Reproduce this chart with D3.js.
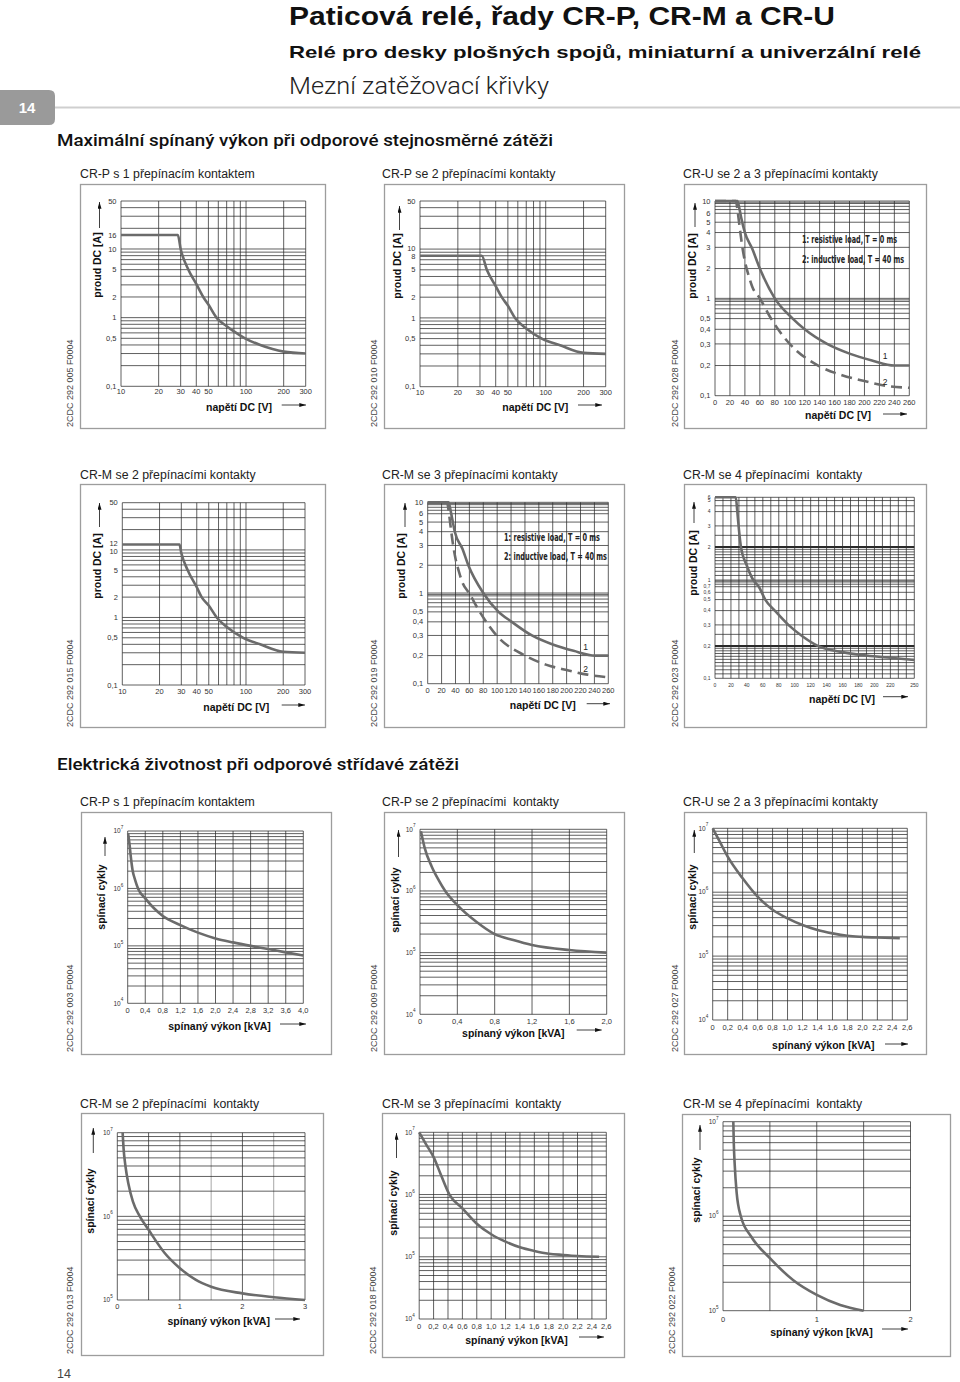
<!DOCTYPE html>
<html><head><meta charset="utf-8">
<script src="https://cdn.jsdelivr.net/npm/d3@7"></script>
<style>
body{margin:0;background:#fff}
svg{display:block}
text{font-family:"Liberation Sans",Arial,Helvetica,sans-serif}
</style>
</head><body>
<svg id="page" width="960" height="1382"></svg>
<script>
// ===================== DATA =====================
// DC load limit curves (voltage V -> current A)
const c1Voltage = [10, 28.5, 30, 34.6, 40, 45.5, 50, 58, 70, 80, 98, 130, 200, 300];
const c1Current = [16, 16, 10, 5, 3.1, 2, 1.55, 1, 0.75, 0.63, 0.5, 0.4, 0.32, 0.3];

const c2Voltage = [10, 31, 34, 40, 44.7, 50, 57, 70, 93, 130, 200, 300];
const c2Current = [8, 8, 5, 2.9, 2, 1.5, 1, 0.7, 0.5, 0.4, 0.31, 0.3];

const c3Voltage1 = [0, 30, 32, 35, 40, 50, 60, 80, 104, 120, 150, 180, 210, 240, 260];
const c3Current1 = [10, 10, 8, 5.5, 4, 2.9, 2, 1, 0.5, 0.4, 0.3, 0.25, 0.22, 0.2, 0.2];
const c3Voltage2 = [0, 28, 30, 33, 36, 40, 45, 50, 60, 75, 100, 138, 170, 200, 230, 260];
const c3Current2 = [10, 10, 7, 4.5, 3.2, 2.3, 1.7, 1.3, 1, 0.5, 0.3, 0.2, 0.16, 0.14, 0.125, 0.12];

const c4Voltage = [10, 29, 30, 33.8, 40, 43.8, 50, 58, 70, 95, 130, 200, 300];
const c4Current = [12, 12, 9, 5, 2.8, 2, 1.5, 1, 0.72, 0.5, 0.4, 0.31, 0.3];

const c5Voltage1 = [0, 30, 32, 35, 39, 50, 58.5, 80, 102, 121, 150, 180, 210, 241, 260];
const c5Current1 = [10, 10, 8, 5.5, 4, 2.8, 2, 1, 0.5, 0.4, 0.3, 0.25, 0.22, 0.2, 0.2];
const c5Voltage2 = [0, 28, 30, 33, 36, 40, 45, 50, 59.5, 75, 99, 140, 170, 200, 230, 260];
const c5Current2 = [10, 10, 7, 4.5, 3.2, 2.3, 1.7, 1.3, 1, 0.5, 0.3, 0.2, 0.16, 0.14, 0.125, 0.117];

const c6Voltage = [0, 26, 28, 30, 32.5, 40, 48, 55, 63, 75, 92, 110, 129, 160, 190, 220, 250];
const c6Current = [6, 6, 4, 2.8, 2, 1.35, 1, 0.7, 0.5, 0.4, 0.3, 0.24, 0.2, 0.175, 0.163, 0.155, 0.148];

// Electrical life curves (switched power kVA -> switching cycles)
const c7Power  = [0.01, 0.04, 0.07, 0.11, 0.17, 0.24, 0.4, 0.8, 1.2, 1.6, 2.0, 2.4, 2.8, 3.2, 3.6, 4.0];
const c7Cycles = [9e6, 6e6, 3.6e6, 2.1e6, 1.4e6, 9.8e5, 6.7e5, 3.3e5, 2.3e5, 1.7e5, 1.35e5, 1.15e5, 1.0e5, 8.8e4, 7.7e4, 6.8e4];

const c8Power  = [0.01, 0.05, 0.125, 0.2, 0.27, 0.4, 0.6, 0.8, 1.0, 1.2, 1.6, 2.0];
const c8Cycles = [9.3e6, 5e6, 2.5e6, 1.5e6, 1e6, 5.9e5, 3.2e5, 2e5, 1.6e5, 1.33e5, 1.1e5, 1e5];

const c9Power  = [0, 0.1, 0.2, 0.4, 0.6, 0.8, 1.0, 1.2, 1.4, 1.6, 1.8, 2.0, 2.2, 2.5];
const c9Cycles = [1e7, 6e6, 3.6e6, 1.65e6, 8.5e5, 5.3e5, 3.9e5, 3.07e5, 2.56e5, 2.27e5, 2.08e5, 2.0e5, 1.95e5, 1.9e5];

const c10Power  = [0.085, 0.1, 0.13, 0.18, 0.25, 0.36, 0.5, 0.75, 1.0, 1.25, 1.5, 2.0, 2.5, 3.0];
const c10Cycles = [1e7, 6.5e6, 4e6, 2.4e6, 1.5e6, 1e6, 6.9e5, 3.7e5, 2.4e5, 1.75e5, 1.44e5, 1.2e5, 1.08e5, 1.0e5];

const c11Power  = [0, 0.1, 0.2, 0.3, 0.42, 0.6, 0.8, 1.0, 1.2, 1.4, 1.6, 1.8, 2.0, 2.2, 2.5];
const c11Cycles = [1e7, 6.3e6, 4e6, 2.1e6, 1e6, 6e5, 3.4e5, 2.3e5, 1.75e5, 1.42e5, 1.24e5, 1.12e5, 1.07e5, 1.03e5, 1.0e5];

const c12Power  = [0.11, 0.115, 0.125, 0.145, 0.19, 0.3, 0.5, 0.75, 1.0, 1.25, 1.5];
const c12Cycles = [1e7, 6e6, 3.5e6, 1.8e6, 1e6, 6.1e5, 3.6e5, 2.1e5, 1.47e5, 1.15e5, 1.0e5];

// tick labels
const dcLogXTicks = [10, 20, 30, 40, 50, 100, 200, 300];
const yTicks16 = [50, 16, 10, 5, 2, 1, 0.5, 0.1];
const yTicks8  = [50, 10, 8, 5, 2, 1, 0.5, 0.1];
const yTicks12 = [50, 12, 10, 5, 2, 1, 0.5, 0.1];
const x260Ticks = [0, 20, 40, 60, 80, 100, 120, 140, 160, 180, 200, 220, 240, 260];
const x250Ticks = [0, 20, 40, 60, 80, 100, 120, 140, 160, 180, 200, 220, 250];
const paper10Ticks = [10, 6, 5, 4, 3, 2, 1, 0.5, 0.4, 0.3, 0.2, 0.1];
const paper6Ticks  = [6, 5, 4, 3, 2, 1, 0.7, 0.6, 0.5, 0.4, 0.3, 0.2, 0.1];
const paper10Grid = [10, 9.5, 9, 8, 7, 6, 5, 4, 3, 2, 1, 0.95, 0.9, 0.8, 0.7, 0.6, 0.5, 0.4, 0.3, 0.2, 0.1];
const paper6Grid  = [6, 5, 4.5, 4, 3, 2.5, 2, 1.9, 1.8, 1.7, 1.6, 1.5, 1.4, 1.3, 1.2, 1.1, 1, 0.95, 0.9, 0.8, 0.7, 0.6, 0.5, 0.4, 0.3, 0.25, 0.2, 0.19, 0.18, 0.17, 0.16, 0.15, 0.14, 0.13, 0.12, 0.11, 0.1];
const paper6Bold = [2, 0.2];
const x40Ticks = [0, 0.4, 0.8, 1.2, 1.6, 2.0, 2.4, 2.8, 3.2, 3.6, 4.0];
const x20Ticks = [0, 0.4, 0.8, 1.2, 1.6, 2.0];
const x26Ticks = [0, 0.2, 0.4, 0.6, 0.8, 1.0, 1.2, 1.4, 1.6, 1.8, 2.0, 2.2, 2.4, 2.6];
const x3Ticks = [0, 1, 2, 3];
const x2Ticks = [0, 1, 2];
const lifeExp3 = [7, 6, 5, 4];
const lifeExp2 = [7, 6, 5];

// layout of the non-logarithmic "paper" used for some DC charts (tick position as fraction of height)
const paper10Frac = [0, .063, .109, .162, .238, .347, .5, .604, .659, .734, .845, 1];
const paper6Frac  = [0, .018, .079, .158, .274, .457, .494, .525, .565, .626, .705, .821, 1];

// ===================== DRAWING =====================
const svg = d3.select('#page');
const defs = svg.append('defs');
defs.append('marker').attr('id', 'ah').attr('viewBox', '0 0 10 6').attr('refX', 10).attr('refY', 3)
  .attr('markerWidth', 7).attr('markerHeight', 4).attr('markerUnits', 'userSpaceOnUse').attr('orient', 'auto')
  .append('path').attr('d', 'M0,0L10,3L0,6Z').attr('fill', '#111');

const comma = v => String(v).replace('.', ',');
const dec1 = v => v === 0 ? '0' : v.toFixed(1).replace('.', ',');

// ----- header -----
svg.append('text').attr('x', 289).attr('y', 25).attr('font-size', 26).attr('font-weight', 'bold')
  .attr('textLength', 546).attr('lengthAdjust', 'spacingAndGlyphs').attr('fill', '#111')
  .text('Paticová relé, řady CR-P, CR-M a CR-U');
svg.append('text').attr('x', 289).attr('y', 57.5).attr('font-size', 17).attr('font-weight', 'bold')
  .attr('textLength', 632).attr('lengthAdjust', 'spacingAndGlyphs').attr('fill', '#111')
  .text('Relé pro desky plošných spojů, miniaturní a univerzální relé');
svg.append('text').attr('x', 289).attr('y', 94).attr('font-size', 23.5)
  .style('font-family', 'Roboto, "Liberation Sans", Arial, sans-serif').attr('font-weight', 300)
  .attr('textLength', 260).attr('lengthAdjust', 'spacingAndGlyphs').attr('fill', '#222')
  .text('Mezní zatěžovací křivky');
svg.append('path').attr('d', 'M0,90 H49 Q55,90 55,96 V119 Q55,125 49,125 H0 Z').attr('fill', '#9a9a9a');
svg.append('text').attr('x', 27).attr('y', 113).attr('text-anchor', 'middle').attr('font-size', 15)
  .attr('font-weight', 'bold').attr('fill', '#fff').text('14');
svg.append('line').attr('x1', 55).attr('x2', 960).attr('y1', 107.5).attr('y2', 107.5)
  .attr('stroke', '#cfcfcf').attr('stroke-width', 2.2);

function sectionTitle(y, txt, len) {
  svg.append('text').attr('x', 57).attr('y', y).attr('font-size', 16.5)
    .style('font-family', 'Roboto, "Liberation Sans", Arial, sans-serif').attr('font-weight', 500)
    .attr('textLength', len).attr('lengthAdjust', 'spacingAndGlyphs').attr('fill', '#111').text(txt);
}
sectionTitle(145.5, 'Maximální spínaný výkon při odporové stejnosměrné zátěži', 496);
sectionTitle(770, 'Elektrická životnost při odporové střídavé zátěži', 402);

svg.append('text').attr('x', 57).attr('y', 1378).attr('font-size', 12.5).attr('fill', '#444').text('14');

// ----- generic chart -----
function makeScale(type, domain, range, paper) {
  if (type === 'log') return d3.scaleLog().domain(domain).range(range);
  if (type === 'lin') return d3.scaleLinear().domain(domain).range(range);
  const s = d3.scaleLinear().domain(paper.values.map(Math.log10))
    .range(paper.fracs.map(f => range[1] + f * (range[0] - range[1])));
  return v => s(Math.log10(v));
}

function drawChart(c) {
  const g = svg.append('g');
  g.append('rect').attr('x', c.box[0]).attr('y', c.box[1]).attr('width', c.box[2]).attr('height', c.box[3])
    .attr('fill', 'none').attr('stroke', '#9d9d9d').attr('stroke-width', 1.3);
  g.append('text').attr('x', c.titlePos[0]).attr('y', c.titlePos[1]).attr('font-size', 12.3)
    .attr('fill', '#222').style('white-space', 'pre').text(c.title);
  const [L, T, R, B] = c.plot;
  const x = makeScale(c.xType, c.xDomain, [L, R]);
  const y = makeScale(c.yType, c.yDomain, [B, T], c.paper);

  // grid
  const grid = g.append('g').attr('stroke', '#2b2b2b').attr('stroke-width', 0.75);
  c.xGrid.forEach(v => grid.append('line').attr('x1', x(v)).attr('x2', x(v)).attr('y1', T).attr('y2', B)
    .attr('stroke', (c.xGridLight && c.xGridLight.includes(v)) ? '#8a8a8a' : null));
  c.yGrid.forEach(v => grid.append('line').attr('y1', y(v)).attr('y2', y(v)).attr('x1', L).attr('x2', R)
    .attr('stroke-width', (c.yGridBold && c.yGridBold.includes(v)) ? 2 : null));

  // tick labels
  const fs = c.tickSize || 7.5;
  const nudge = c.yNudge || {};
  if (c.yPow) {
    c.yPow.forEach(e => {
      const t = g.append('text').attr('x', L - 4.5).attr('y', y(Math.pow(10, e))).attr('dy', '0.35em')
        .attr('text-anchor', 'end').attr('font-size', 6.5).attr('fill', '#333').text('10');
      t.append('tspan').attr('font-size', 4.6).attr('dy', '-0.9em').text(e);
    });
  } else {
    c.yTicks.forEach(v => {
      g.append('text').attr('x', L - 4.5).attr('y', y(v) + (nudge[v] || 0)).attr('dy', '0.35em')
        .attr('text-anchor', 'end').attr('font-size', fs).attr('fill', '#333').text(comma(v));
    });
  }
  c.xTicks.forEach(v => {
    g.append('text').attr('x', x(v)).attr('y', B + (c.xLabDy || 6.5)).attr('dy', '0.35em')
      .attr('text-anchor', 'middle').attr('font-size', fs).attr('fill', '#333').text(c.xFmt(v));
  });

  // curves
  const line = d3.line().x(d => x(d[0])).y(d => y(d[1])).curve(d3.curveMonotoneX);
  c.series.forEach(s => {
    g.append('path').datum(d3.zip(s.x, s.y)).attr('d', line).attr('fill', 'none')
      .attr('stroke', '#6b6b6b').attr('stroke-width', 2.6)
      .attr('stroke-dasharray', s.dash ? '11,6' : null);
  });

  // axis titles
  const yt = c.yTitle;
  g.append('text').attr('transform', `translate(${yt.x},${yt.y}) rotate(-90)`).attr('text-anchor', 'middle')
    .attr('dy', '0.35em').attr('font-size', 10.5).attr('font-weight', 'bold').attr('fill', '#111').text(yt.text);
  g.append('line').attr('x1', yt.ax).attr('x2', yt.ax).attr('y1', yt.ay[1]).attr('y2', yt.ay[0])
    .attr('stroke', '#111').attr('stroke-width', 0.8).attr('marker-end', 'url(#ah)');
  const xt = c.xTitle;
  g.append('text').attr('x', xt.x).attr('y', xt.y).attr('dy', '0.35em').attr('text-anchor', 'middle')
    .attr('font-size', 10.5).attr('font-weight', 'bold').attr('fill', '#111').text(xt.text);
  g.append('line').attr('x1', xt.ax[0]).attr('x2', xt.ax[1]).attr('y1', xt.ay).attr('y2', xt.ay)
    .attr('stroke', '#111').attr('stroke-width', 0.8).attr('marker-end', 'url(#ah)');

  // document code
  g.append('text').attr('transform', `translate(${c.code.x},${c.code.y}) rotate(-90)`)
    .attr('font-size', 9).attr('fill', '#444').text(c.code.text);

  // legend
  if (c.legend) {
    c.legend.forEach(l => g.append('text').attr('x', l.x).attr('y', l.y).attr('font-size', 10.5)
      .style('font-family', '"Liberation Sans Narrow", "DejaVu Sans Condensed", "Liberation Sans", sans-serif')
      .attr('font-weight', 'bold').attr('fill', '#222').attr('textLength', l.len)
      .attr('lengthAdjust', 'spacingAndGlyphs').text(l.text));
  }
  if (c.labels) {
    c.labels.forEach(l => g.append('text').attr('x', l.x).attr('y', l.y).attr('dy', '0.35em')
      .attr('text-anchor', 'middle').attr('font-size', 8.5).attr('fill', '#222').text(l.text));
  }
}

const logX = d3.scaleLog().domain([10, 300]).ticks();
const logY50 = d3.scaleLog().domain([0.1, 50]).ticks();
const life3 = d3.scaleLog().domain([1e4, 1e7]).ticks();
const life2 = d3.scaleLog().domain([1e5, 1e7]).ticks();
const stepGrid = (a, b, s) => d3.range(0, Math.round((b - a) / s) + 1).map(i => +(a + i * s).toFixed(3));

const legendT = ['1: resistive load, T = 0 ms', '2: inductive load, T = 40 ms'];
const dcX = 'napětí DC [V]', dcY = 'proud DC [A]', lifeX = 'spínaný výkon [kVA]', lifeY = 'spínací cykly';

const charts = [
  { title: 'CR-P s 1 přepínacím kontaktem', titlePos: [80, 178], box: [80.5, 184.5, 245, 244],
    plot: [121, 201, 305.7, 386.3], xType: 'log', xDomain: [10, 300], yType: 'log', yDomain: [0.1, 50],
    xGrid: logX, yGrid: logY50, xTicks: dcLogXTicks, yTicks: yTicks16, xFmt: comma, xLabDy: 5.5,
    series: [{ x: c1Voltage, y: c1Current }],
    yTitle: { text: dcY, x: 97, y: 265, ax: 99.5, ay: [202, 228] },
    xTitle: { text: dcX, x: 239, y: 407, ax: [281.7, 306], ay: 405 },
    code: { text: '2CDC 292 005 F0004', x: 72.5, y: 427 } },
  { title: 'CR-P se 2 přepínacími kontakty', titlePos: [382, 178], box: [384.5, 184.5, 240, 244],
    plot: [420, 201, 605.7, 386.7], xType: 'log', xDomain: [10, 300], yType: 'log', yDomain: [0.1, 50],
    xGrid: logX, yGrid: logY50, xTicks: dcLogXTicks, yTicks: yTicks8, xFmt: comma, xLabDy: 5.5,
    yNudge: { 10: -0.8, 8: 0.8 },
    series: [{ x: c2Voltage, y: c2Current }],
    yTitle: { text: dcY, x: 397, y: 266, ax: 399.5, ay: [206, 230] },
    xTitle: { text: dcX, x: 535.3, y: 407.5, ax: [578, 602], ay: 405 },
    code: { text: '2CDC 292 010 F0004', x: 376.5, y: 427 } },
  { title: 'CR-U se 2 a 3 přepínacími kontakty', titlePos: [683, 178], box: [684.5, 184.5, 242, 244],
    plot: [715, 201, 909.3, 395.7], xType: 'lin', xDomain: [0, 260], yType: 'paper', yDomain: [0.1, 10],
    paper: { values: paper10Ticks, fracs: paper10Frac },
    xGrid: stepGrid(0, 260, 20), yGrid: paper10Grid, xTicks: x260Ticks, yTicks: paper10Ticks, xFmt: comma,
    series: [{ x: c3Voltage1, y: c3Current1 }, { x: c3Voltage2, y: c3Current2, dash: true }],
    yTitle: { text: dcY, x: 692.7, y: 266, ax: 695, ay: [203, 227] },
    xTitle: { text: dcX, x: 838, y: 415, ax: [883, 907], ay: 414 },
    code: { text: '2CDC 292 028 F0004', x: 677.5, y: 427 },
    legend: [{ text: legendT[0], x: 802, y: 243, len: 95 }, { text: legendT[1], x: 802, y: 263, len: 102 }],
    labels: [{ text: '1', x: 885, y: 356 }, { text: '2', x: 885, y: 381.7 }] },
  { title: 'CR-M se 2 přepínacími kontakty', titlePos: [80, 479], box: [80.5, 484.5, 245, 243],
    plot: [122.3, 502.7, 305, 685], xType: 'log', xDomain: [10, 300], yType: 'log', yDomain: [0.1, 50],
    xGrid: logX, yGrid: logY50, xTicks: dcLogXTicks, yTicks: yTicks12, xFmt: comma, xLabDy: 6,
    yNudge: { 12: -1.2, 10: 1.2 },
    series: [{ x: c4Voltage, y: c4Current }],
    yTitle: { text: dcY, x: 97.3, y: 566, ax: 99.5, ay: [503, 527] },
    xTitle: { text: dcX, x: 236.3, y: 707, ax: [281.7, 305], ay: 705 },
    code: { text: '2CDC 292 015 F0004', x: 72.5, y: 727 } },
  { title: 'CR-M se 3 přepínacími kontakty', titlePos: [382, 479], box: [384.5, 484.5, 240, 243],
    plot: [427.7, 502.3, 608.3, 683.7], xType: 'lin', xDomain: [0, 260], yType: 'paper', yDomain: [0.1, 10],
    paper: { values: paper10Ticks, fracs: paper10Frac },
    xGrid: stepGrid(0, 260, 20), yGrid: paper10Grid, xTicks: x260Ticks, yTicks: paper10Ticks, xFmt: comma,
    series: [{ x: c5Voltage1, y: c5Current1 }, { x: c5Voltage2, y: c5Current2, dash: true }],
    yTitle: { text: dcY, x: 401, y: 566, ax: 405, ay: [503, 527] },
    xTitle: { text: dcX, x: 542.8, y: 705.7, ax: [586.7, 610], ay: 703.7 },
    code: { text: '2CDC 292 019 F0004', x: 376.5, y: 727 },
    legend: [{ text: legendT[0], x: 504, y: 541, len: 96 }, { text: legendT[1], x: 504, y: 559.5, len: 103 }],
    labels: [{ text: '1', x: 585.7, y: 646.7 }, { text: '2', x: 585.7, y: 669.3 }] },
  { title: 'CR-M se 4 přepínacími  kontakty', titlePos: [683, 479], box: [684.5, 484.5, 242, 243],
    plot: [715, 497.3, 914.3, 678.3], xType: 'lin', xDomain: [0, 250], yType: 'paper', yDomain: [0.1, 6],
    paper: { values: paper6Ticks, fracs: paper6Frac }, tickSize: 5,
    xGrid: stepGrid(0, 250, 10), yGrid: paper6Grid, yGridBold: paper6Bold, xTicks: x250Ticks, yTicks: paper6Ticks, xFmt: comma,
    series: [{ x: c6Voltage, y: c6Current }],
    yTitle: { text: dcY, x: 693.3, y: 563, ax: 694, ay: [502, 523] },
    xTitle: { text: dcX, x: 842, y: 699.3, ax: [883, 908], ay: 696.7 },
    code: { text: '2CDC 292 023 F0004', x: 677.5, y: 727 } },
  { title: 'CR-P s 1 přepínacím kontaktem', titlePos: [80, 806], box: [81.5, 812.5, 250, 242],
    plot: [127.7, 831, 303.3, 1003.3], xType: 'lin', xDomain: [0, 4], yType: 'log', yDomain: [1e4, 1e7],
    xGrid: x40Ticks, yGrid: life3, xTicks: x40Ticks, yPow: lifeExp3, xFmt: dec1, xLabDy: 7,
    series: [{ x: c7Power, y: c7Cycles }],
    yTitle: { text: lifeY, x: 101.7, y: 897, ax: 105, ay: [837, 856] },
    xTitle: { text: lifeX, x: 219.5, y: 1026.7, ax: [280, 306], ay: 1024 },
    code: { text: '2CDC 292 003 F0004', x: 72.5, y: 1052 } },
  { title: 'CR-P se 2 přepínacími  kontakty', titlePos: [382, 806], box: [384.5, 812.5, 240, 242],
    plot: [420, 829.3, 606.7, 1014.3], xType: 'lin', xDomain: [0, 2], yType: 'log', yDomain: [1e4, 1e7],
    xGrid: x20Ticks, yGrid: life3, xTicks: x20Ticks, yPow: lifeExp3, xFmt: dec1, xLabDy: 7,
    series: [{ x: c8Power, y: c8Cycles }],
    yTitle: { text: lifeY, x: 395, y: 900, ax: 398.5, ay: [830, 857] },
    xTitle: { text: lifeX, x: 513.3, y: 1033.3, ax: [576.7, 601.7], ay: 1030 },
    code: { text: '2CDC 292 009 F0004', x: 376.5, y: 1052 } },
  { title: 'CR-U se 2 a 3 přepínacími kontakty', titlePos: [683, 806], box: [684.5, 812.5, 242, 242],
    plot: [712.7, 828.3, 907.3, 1020], xType: 'lin', xDomain: [0, 2.6], yType: 'log', yDomain: [1e4, 1e7],
    xGrid: x26Ticks, yGrid: life3, xTicks: x26Ticks, yPow: lifeExp3, xFmt: dec1, xLabDy: 7,
    series: [{ x: c9Power, y: c9Cycles }],
    yTitle: { text: lifeY, x: 692.3, y: 897, ax: 694.3, ay: [830, 853] },
    xTitle: { text: lifeX, x: 823.3, y: 1045, ax: [885, 908], ay: 1044 },
    code: { text: '2CDC 292 027 F0004', x: 677.5, y: 1052 } },
  { title: 'CR-M se 2 přepínacími  kontakty', titlePos: [80, 1108], box: [81.5, 1113.5, 242, 242],
    plot: [117.3, 1132.7, 305, 1300], xType: 'lin', xDomain: [0, 3], yType: 'log', yDomain: [1e5, 1e7],
    xGrid: stepGrid(0, 3, 0.5), xGridLight: [1.5, 2.5], yGrid: life2, xTicks: x3Ticks, yPow: lifeExp2, xFmt: comma, xLabDy: 6.7,
    series: [{ x: c10Power, y: c10Cycles }],
    yTitle: { text: lifeY, x: 90, y: 1201, ax: 93.3, ay: [1128, 1153] },
    xTitle: { text: lifeX, x: 218.7, y: 1321.7, ax: [275, 300], ay: 1319 },
    code: { text: '2CDC 292 013 F0004', x: 72.5, y: 1354 } },
  { title: 'CR-M se 3 přepínacími  kontakty', titlePos: [382, 1108], box: [382.5, 1113.5, 242, 244],
    plot: [419.2, 1132.3, 606.3, 1319], xType: 'lin', xDomain: [0, 2.6], yType: 'log', yDomain: [1e4, 1e7],
    xGrid: x26Ticks, yGrid: life3, xTicks: x26Ticks, yPow: lifeExp3, xFmt: dec1, xLabDy: 7.7,
    series: [{ x: c11Power, y: c11Cycles }],
    yTitle: { text: lifeY, x: 393, y: 1203, ax: 396.5, ay: [1133, 1158] },
    xTitle: { text: lifeX, x: 516.5, y: 1340, ax: [579, 604], ay: 1337 },
    code: { text: '2CDC 292 018 F0004', x: 376, y: 1354 } },
  { title: 'CR-M se 4 přepínacími  kontakty', titlePos: [683, 1108], box: [682.5, 1114.5, 268, 242],
    plot: [723, 1121.7, 910.5, 1310.7], xType: 'lin', xDomain: [0, 2], yType: 'log', yDomain: [1e5, 1e7],
    xGrid: stepGrid(0, 2, 0.5), yGrid: life2, xTicks: x2Ticks, yPow: lifeExp2, xFmt: comma, xLabDy: 8.6,
    series: [{ x: c12Power, y: c12Cycles }],
    yTitle: { text: lifeY, x: 696, y: 1190, ax: 700, ay: [1125, 1150] },
    xTitle: { text: lifeX, x: 821.4, y: 1332, ax: [882, 908], ay: 1329 },
    code: { text: '2CDC 292 022 F0004', x: 675, y: 1354 } }
];

charts.forEach(drawChart);
</script>
</body></html>
